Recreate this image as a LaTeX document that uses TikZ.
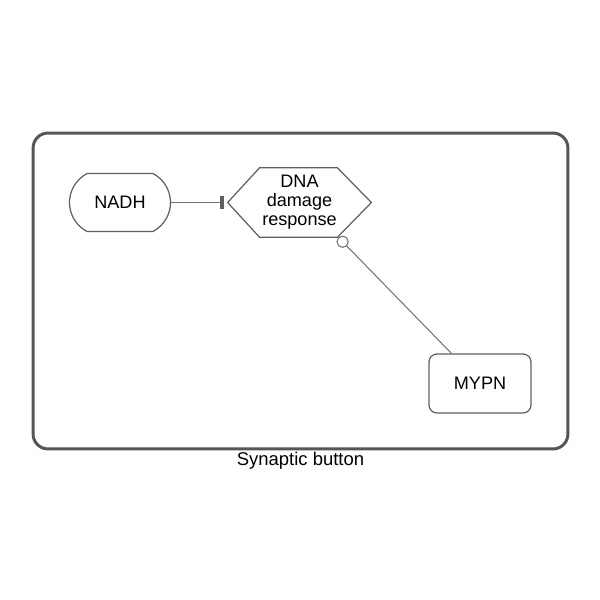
\documentclass[tikz,border=0pt]{standalone}
\usepackage{fontspec}
\setmainfont{Liberation Sans}
\usetikzlibrary{positioning, arrows.meta, shapes.misc}
\definecolor{compGray}{RGB}{85, 85, 85}
\definecolor{nodeGray}{RGB}{95, 95, 95}
\definecolor{edgeGray}{RGB}{115, 115, 115}

\begin{document}
\begin{tikzpicture}[x=0.02cm, y=-0.02cm, >=Stealth, font=\fontsize{10.3}{10.8}\selectfont,
  entity/.style={draw=nodeGray, line width=0.7pt, align=center, inner sep=0pt},
  link/.style={draw=edgeGray, line width=0.6pt}]
  \useasboundingbox (0,0) rectangle (600,600);

  % Compartment
  \node[draw=compGray, line width=1.7pt, rounded corners=0.3cm,
        minimum width=10.7cm, minimum height=6.32cm] (button) at (300.5,291) {};
  \node[below=0.5pt of button, inner sep=0pt, font=\fontsize{10.5}{12}\selectfont] (buttonlabel) {Synaptic button};

  % Entities
  \node[entity, rounded rectangle, rounded rectangle arc length=125,
        minimum width=2.02cm, minimum height=1.16cm] (nadh) at (120,202.5) {NADH};
  \node[inner sep=0pt, align=center, minimum width=2.86cm, minimum height=1.38cm] (dna) at (299.5,202.5)
    {DNA\\damage\\response};
  \draw[entity] (dna.west) -- ([xshift=0.64cm]dna.north west) -- ([xshift=-0.68cm]dna.north east)
    -- (dna.east) -- ([xshift=-0.68cm]dna.south east) -- ([xshift=0.64cm]dna.south west) -- cycle;
  \node[entity, rounded corners=0.16cm,
        minimum width=2.04cm, minimum height=1.18cm] (mypn) at (480,383.5) {MYPN};

  % Interactions
  \draw[link, -{Rectangle[length=2.6pt, width=7.5pt, color=nodeGray]}, shorten >=2pt]
    (nadh.east) -- (dna.west);
  \draw[link, -{Circle[open, length=7pt, width=7pt, fill=white]}]
    ([xshift=0.46cm]mypn.north west) -- ([xshift=-0.66cm]dna.south east);
\end{tikzpicture}
\end{document}
